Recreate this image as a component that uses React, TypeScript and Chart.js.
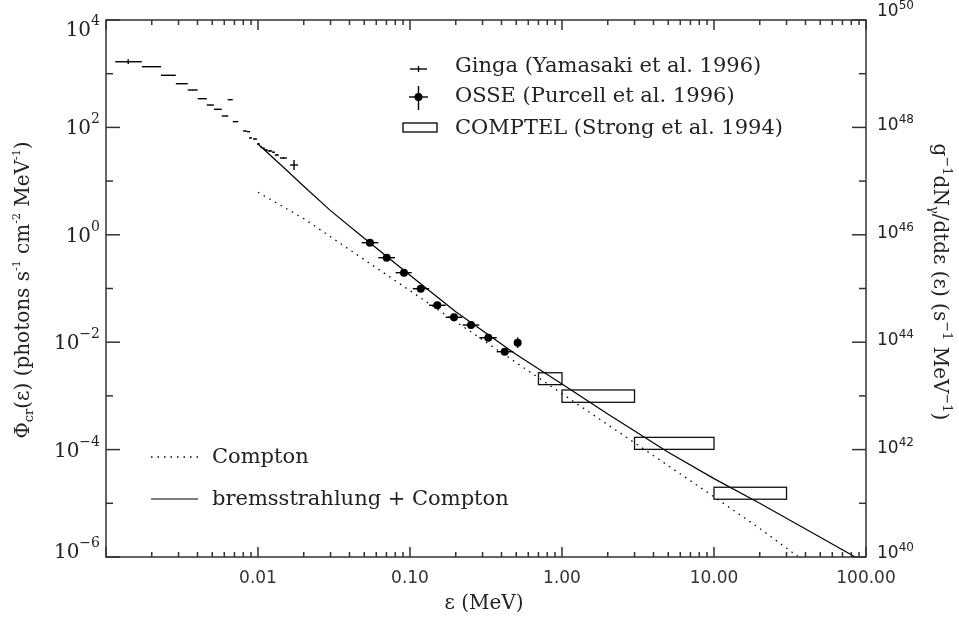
import React, { useEffect, useRef } from 'react';
import { Chart, registerables } from 'chart.js';

Chart.register(...registerables);

// ---------------- data ----------------
const gingaX = [0.0014, 0.002, 0.00257, 0.00315, 0.00372, 0.0043, 0.00486, 0.00545, 0.00607, 0.00657, 0.00712, 0.0082, 0.00866, 0.00893, 0.00956, 0.01007, 0.01045, 0.01085, 0.01135, 0.012, 0.01265, 0.0133, 0.0147, 0.01726];
const gingaXLo = [0.00115, 0.00172, 0.0023, 0.00288, 0.00345, 0.00401, 0.0046, 0.00513, 0.00577, 0.00632, 0.00682, 0.00797, 0.00846, 0.00873, 0.00927, 0.00985, 0.0103, 0.0106, 0.0111, 0.0116, 0.0124, 0.0129, 0.01395, 0.01624];
const gingaXHi = [0.00172, 0.0023, 0.00288, 0.00345, 0.00401, 0.0046, 0.00513, 0.00577, 0.00638, 0.00682, 0.00742, 0.00846, 0.00886, 0.00913, 0.00985, 0.0103, 0.0106, 0.0111, 0.0116, 0.0124, 0.0129, 0.0137, 0.0155, 0.01833];
const gingaY = [1670, 1350, 934, 651, 497, 342, 261, 217, 163, 328, 128, 85.7, 83.2, 63.6, 60.8, 49.1, 43.7, 40.8, 37.9, 36.4, 34.4, 30.6, 26.9, 19.95];
const gingaYLo = [1510, 1330, 920, 642, 490, 337, 257, 214, 161, 323, 126, 84.5, 82.0, 62.7, 59.5, 47.5, 42.5, 39.6, 36.7, 35.2, 33.2, 29.5, 25.8, 16.1];
const gingaYHi = [1850, 1370, 948, 660, 504, 347, 265, 220, 165, 333, 130, 86.9, 84.4, 64.5, 62.1, 50.7, 44.9, 42.0, 39.1, 37.6, 35.6, 31.7, 28.0, 24.7];

const osseX = [0.0545, 0.0703, 0.0913, 0.1176, 0.1512, 0.1948, 0.252, 0.3274, 0.4198, 0.511];
const osseXLo = [0.0481, 0.0619, 0.0805, 0.1042, 0.1334, 0.1717, 0.2222, 0.2856, 0.3719, 0.511];
const osseXHi = [0.0619, 0.0797, 0.1026, 0.1334, 0.1717, 0.2208, 0.2856, 0.3719, 0.4782, 0.511];
const osseY = [0.713, 0.375, 0.197, 0.0992, 0.0487, 0.0291, 0.0209, 0.01213, 0.00665, 0.00979];
const osseYLo = [0.66, 0.345, 0.181, 0.0913, 0.0448, 0.0268, 0.0192, 0.01116, 0.00612, 0.0078];
const osseYHi = [0.77, 0.405, 0.213, 0.1071, 0.0526, 0.0314, 0.0226, 0.0131, 0.00718, 0.0123];

const comptelXLo = [0.7, 1, 3, 10];
const comptelXHi = [1, 3, 10, 30];
const comptelYLo = [1.62e-3, 7.6e-4, 1.01e-4, 1.19e-5];
const comptelYHi = [2.7e-3, 1.29e-3, 1.69e-4, 1.99e-5];

const comptonX = [0.01, 0.02, 0.03, 0.1, 0.3, 1, 3, 10, 20, 36];
const comptonY = [6.2, 2.0, 0.92, 0.091, 0.0111, 1.1e-3, 1.34e-4, 1.32e-5, 3.4e-6, 1.0e-6];

const bremsX = [0.01, 0.015, 0.02, 0.03, 0.05, 0.1, 0.2, 0.5, 1, 2, 5, 10, 20, 50, 85];
const bremsY = [49, 17.2, 8.0, 2.82, 0.86, 0.177, 0.0368, 0.00593, 0.00166, 4.6e-4, 8.95e-5, 2.88e-5, 1.0e-5, 2.34e-6, 1.0e-6];

const xTickValues = [0.01, 0.1, 1, 10, 100];
const xTickLabels = ['0.01', '0.10', '1.00', '10.00', '100.00'];
const yLeftExponents = [4, 2, 0, -2, -4, -6];
const yRightExponents = [50, 48, 46, 44, 42, 40];

const legendTop = ['Ginga (Yamasaki et al. 1996)', 'OSSE (Purcell et al. 1996)', 'COMPTEL (Strong et al. 1994)'];
const legendBottom = ['Compton', 'bremsstrahlung + Compton'];

// ---------------- drawing helpers ----------------
const SERIF = '"DejaVu Serif", serif';
const SANS = '"DejaVu Sans", sans-serif';
const INK = '#222';

type Seg = { t: string; s: number; dy?: number; f?: string };

function segFont(s: Seg) {
  return `${s.s}px ${s.f || SERIF}`;
}
function richWidth(ctx: CanvasRenderingContext2D, segs: Seg[]) {
  let w = 0;
  for (const s of segs) {
    ctx.font = segFont(s);
    w += ctx.measureText(s.t).width;
  }
  return w;
}
function drawRich(ctx: CanvasRenderingContext2D, segs: Seg[], x: number, y: number, angle: number, align: 'left' | 'center' | 'right') {
  ctx.save();
  ctx.translate(x, y);
  ctx.rotate(angle);
  const w = richWidth(ctx, segs);
  let cx = align === 'center' ? -w / 2 : align === 'right' ? -w : 0;
  ctx.textAlign = 'left';
  ctx.textBaseline = 'alphabetic';
  for (const s of segs) {
    ctx.font = segFont(s);
    ctx.fillText(s.t, cx, s.dy || 0);
    cx += ctx.measureText(s.t).width;
  }
  ctx.restore();
}
function line(ctx: CanvasRenderingContext2D, x1: number, y1: number, x2: number, y2: number) {
  ctx.beginPath();
  ctx.moveTo(x1, y1);
  ctx.lineTo(x2, y2);
  ctx.stroke();
}
function expLabel(e: number) {
  return e < 0 ? '\u2212' + String(-e) : String(e);
}

const decorPlugin = {
  id: 'decor',
  afterDatasetsDraw(chart: any) {
    const ctx: CanvasRenderingContext2D = chart.ctx;
    const xs = chart.scales.x;
    const ys = chart.scales.y;
    const a = chart.chartArea;
    ctx.save();
    ctx.beginPath();
    ctx.rect(a.left, a.top, a.right - a.left, a.bottom - a.top);
    ctx.clip();
    ctx.strokeStyle = '#000';
    ctx.fillStyle = '#000';
    ctx.lineWidth = 1.4;
    // Ginga error crosses
    gingaX.forEach((x, i) => {
      const px = xs.getPixelForValue(x);
      const py = ys.getPixelForValue(gingaY[i]);
      line(ctx, xs.getPixelForValue(gingaXLo[i]), py, xs.getPixelForValue(gingaXHi[i]), py);
      line(ctx, px, ys.getPixelForValue(gingaYLo[i]), px, ys.getPixelForValue(gingaYHi[i]));
    });
    // OSSE error bars
    osseX.forEach((x, i) => {
      const px = xs.getPixelForValue(x);
      const py = ys.getPixelForValue(osseY[i]);
      line(ctx, xs.getPixelForValue(osseXLo[i]), py, xs.getPixelForValue(osseXHi[i]), py);
      line(ctx, px, ys.getPixelForValue(osseYLo[i]), px, ys.getPixelForValue(osseYHi[i]));
    });
    // COMPTEL boxes
    ctx.lineWidth = 1.3;
    ctx.strokeStyle = '#111';
    comptelXLo.forEach((xl, i) => {
      const x1 = xs.getPixelForValue(xl);
      const x2 = xs.getPixelForValue(comptelXHi[i]);
      const y1 = ys.getPixelForValue(comptelYHi[i]);
      const y2 = ys.getPixelForValue(comptelYLo[i]);
      ctx.strokeRect(x1, y1, x2 - x1, y2 - y1);
    });
    ctx.restore();
  },
  afterDraw(chart: any) {
    const ctx: CanvasRenderingContext2D = chart.ctx;
    const xs = chart.scales.x;
    const ys = chart.scales.y;
    const yr = chart.scales.y2;
    const a = chart.chartArea;
    ctx.save();
    ctx.strokeStyle = '#333';
    ctx.lineWidth = 1.5;
    ctx.strokeRect(a.left, a.top, a.right - a.left, a.bottom - a.top);

    // x ticks (bottom & top)
    for (let d = -3; d <= 2; d++) {
      for (let m = 1; m <= 9; m++) {
        const v = m * Math.pow(10, d);
        if (v < 0.001 * 0.999 || v > 100 * 1.001) continue;
        const px = xs.getPixelForValue(v);
        const len = m === 1 ? 10 : 5;
        line(ctx, px, a.bottom, px, a.bottom - len);
        line(ctx, px, a.top, px, a.top + len);
      }
    }
    // y ticks left & right
    for (let e = -6; e <= 4; e++) {
      const py = ys.getPixelForValue(Math.pow(10, e));
      const len = e % 2 === 0 ? 14 : 7;
      line(ctx, a.left, py, a.left + len, py);
    }
    for (let e = 40; e <= 50; e++) {
      const py = yr.getPixelForValue(Math.pow(10, e));
      const len = e % 2 === 0 ? 14 : 7;
      line(ctx, a.right, py, a.right - len, py);
    }

    // x tick labels
    ctx.fillStyle = '#333';
    ctx.font = `17px ${SANS}`;
    ctx.textAlign = 'center';
    ctx.textBaseline = 'middle';
    xTickValues.forEach((v, i) => {
      ctx.fillText(xTickLabels[i], xs.getPixelForValue(v), 579);
    });

    // left y labels
    ctx.fillStyle = INK;
    yLeftExponents.forEach((e) => {
      const py = ys.getPixelForValue(Math.pow(10, e));
      const c = Math.min(Math.max(py, a.top + 9), a.bottom - 6);
      drawRich(ctx, [{ t: '10', s: 20 }, { t: expLabel(e), s: 14, dy: -11 }], 100, c + 7, 0, 'right');
    });
    // right y labels
    yRightExponents.forEach((e) => {
      const py = yr.getPixelForValue(Math.pow(10, e));
      let c = py - 3;
      if (e === 50) c = py - 10;
      if (e === 40) c = py - 5;
      drawRich(ctx, [{ t: '10', s: 17, f: SANS }, { t: String(e), s: 12, f: SANS, dy: -7 }], 877, c + 6, 0, 'left');
    });

    // axis titles
    const cx = (a.left + a.right) / 2;
    drawRich(ctx, [{ t: '\u03b5 (MeV)', s: 20 }], cx - 2, 609, 0, 'center');
    drawRich(
      ctx,
      [
        { t: '\u03a6', s: 20 },
        { t: 'cr', s: 13, dy: 4 },
        { t: '(\u03b5) (photons s', s: 20 },
        { t: '-1', s: 11, dy: -9 },
        { t: ' cm', s: 20 },
        { t: '-2', s: 11, dy: -9 },
        { t: ' MeV', s: 20 },
        { t: '-1', s: 11, dy: -9 },
        { t: ')', s: 20 },
      ],
      29,
      290,
      -Math.PI / 2,
      'center'
    );
    drawRich(
      ctx,
      [
        { t: 'g', s: 20 },
        { t: '\u22121', s: 13, dy: -9 },
        { t: 'dN', s: 20 },
        { t: '\u03b3', s: 13, dy: 4 },
        { t: '/dtd\u03b5 (\u03b5) (s', s: 20 },
        { t: '\u22121', s: 13, dy: -9 },
        { t: ' MeV', s: 20 },
        { t: '\u22121', s: 13, dy: -9 },
        { t: ')', s: 20 },
      ],
      934,
      282,
      Math.PI / 2,
      'center'
    );

    // legend (top)
    ctx.strokeStyle = '#000';
    ctx.fillStyle = '#000';
    ctx.lineWidth = 1.4;
    line(ctx, 410, 69, 427, 69);
    line(ctx, 418.5, 66, 418.5, 72);
    line(ctx, 409, 97, 428, 97);
    line(ctx, 418.5, 86, 418.5, 110);
    ctx.beginPath();
    ctx.arc(418.5, 97, 4, 0, Math.PI * 2);
    ctx.fill();
    ctx.lineWidth = 1.3;
    ctx.strokeRect(403, 123, 34, 9);
    ctx.fillStyle = INK;
    const lbY = [72, 102, 134];
    legendTop.forEach((t, i) => drawRich(ctx, [{ t, s: 21 }], 455, lbY[i], 0, 'left'));

    // legend (bottom left)
    ctx.strokeStyle = '#000';
    ctx.lineWidth = 1.3;
    ctx.setLineDash([1.5, 5]);
    line(ctx, 151, 457, 198, 457);
    ctx.setLineDash([]);
    ctx.lineWidth = 1.2;
    line(ctx, 151, 499, 198, 499);
    drawRich(ctx, [{ t: legendBottom[0], s: 21 }], 212, 463, 0, 'left');
    drawRich(ctx, [{ t: legendBottom[1], s: 21 }], 212, 505, 0, 'left');
    ctx.restore();
  },
};

export default function App() {
  const ref = useRef<HTMLCanvasElement>(null);
  useEffect(() => {
    const canvas = ref.current!;
    const chart = new Chart(canvas, {
      type: 'scatter',
      data: {
        datasets: [
          {
            label: 'Ginga',
            data: gingaX.map((x, i) => ({ x, y: gingaY[i] })),
            pointRadius: 0,
            showLine: false,
          },
          {
            label: 'OSSE',
            data: osseX.map((x, i) => ({ x, y: osseY[i] })),
            pointRadius: 4,
            pointBackgroundColor: '#000',
            pointBorderColor: '#000',
            pointBorderWidth: 0,
            showLine: false,
          },
          {
            label: 'COMPTEL',
            data: comptelXLo.map((x, i) => ({ x: Math.sqrt(x * comptelXHi[i]), y: Math.sqrt(comptelYLo[i] * comptelYHi[i]) })),
            pointRadius: 0,
            showLine: false,
          },
          {
            label: 'Compton',
            data: comptonX.map((x, i) => ({ x, y: comptonY[i] })),
            showLine: true,
            pointRadius: 0,
            borderColor: '#000',
            borderWidth: 1.3,
            borderDash: [1.5, 5],
            tension: 0,
          },
          {
            label: 'bremsstrahlung + Compton',
            data: bremsX.map((x, i) => ({ x, y: bremsY[i] })),
            showLine: true,
            pointRadius: 0,
            borderColor: '#000',
            borderWidth: 1.2,
            tension: 0,
          },
        ],
      },
      options: {
        responsive: false,
        animation: false,
        devicePixelRatio: 1,
        layout: { padding: { left: 106, top: 20, right: 93, bottom: 61 } },
        plugins: { legend: { display: false }, tooltip: { enabled: false } },
        scales: {
          x: { type: 'logarithmic', min: 0.001, max: 100, display: false },
          y: { type: 'logarithmic', min: 1e-6, max: 1e4, display: false },
          y2: { type: 'logarithmic', min: 1e40, max: 1e50, display: false, position: 'right' },
        },
      },
      plugins: [decorPlugin],
    } as any);
    return () => chart.destroy();
  }, []);
  return (
    <div style={{ position: 'absolute', left: 0, top: 0, width: 959, height: 618, background: '#fff' }}>
      <canvas ref={ref} width={959} height={618} style={{ display: 'block' }} />
    </div>
  );
}
